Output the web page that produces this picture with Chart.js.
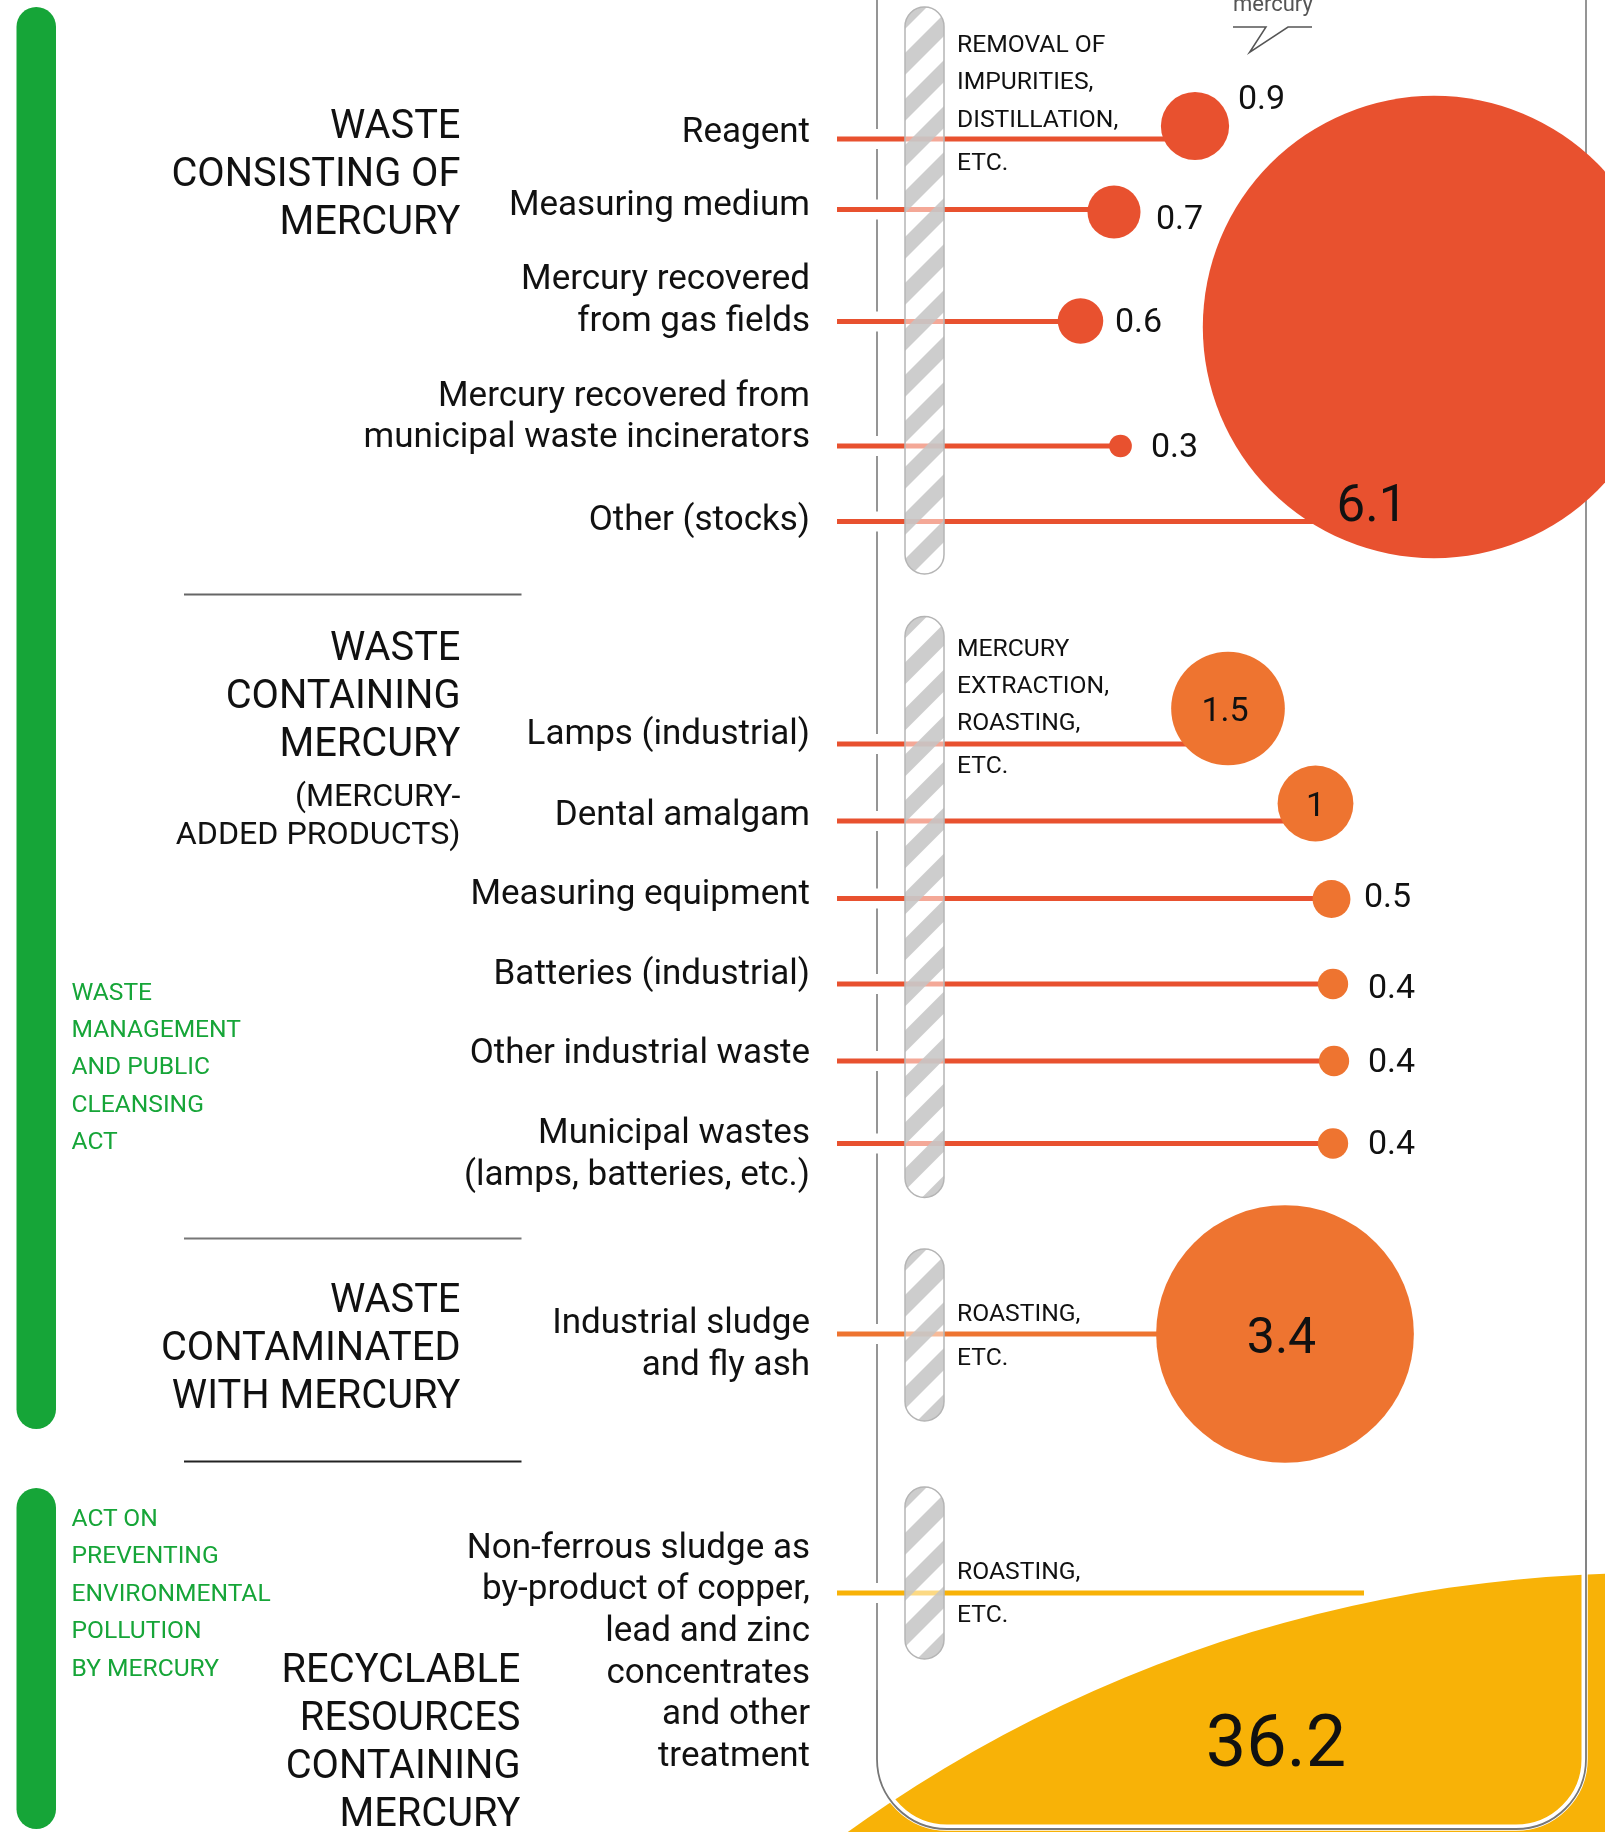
<!DOCTYPE html>
<html>
<head>
<meta charset="utf-8">
<title>Mercury waste flows</title>
<script src="https://cdn.jsdelivr.net/npm/chart.js@4.4.1/dist/chart.umd.min.js"></script>
<style>
  html, body { margin: 0; padding: 0; background: #fff; overflow: hidden; }
  #wrap { position: relative; width: 1605px; height: 1832px; font-family: Roboto, "Noto Sans", sans-serif; color: #111; }
  #chart { position: absolute; left: 0; top: 0; }
  .t { position: absolute; white-space: nowrap; }
</style>
</head>
<body>
<div id="wrap"><canvas id="chart" width="1605" height="1832"></canvas></div>
<script>
// ====== Data ======
const categories = [
  'Reagent',
  'Measuring medium',
  'Mercury recovered\nfrom gas fields',
  'Mercury recovered from\nmunicipal waste incinerators',
  'Other (stocks)',
  'Lamps (industrial)',
  'Dental amalgam',
  'Measuring equipment',
  'Batteries (industrial)',
  'Other industrial waste',
  'Municipal wastes\n(lamps, batteries, etc.)',
  'Industrial sludge\nand fly ash',
  'Non-ferrous sludge as\nby-product of copper,\nlead and zinc\nconcentrates\nand other\ntreatment'
];
const values = [0.9, 0.7, 0.6, 0.3, 6.1, 1.5, 1, 0.5, 0.4, 0.4, 0.4, 3.4, 36.2];
const groupOf = [0, 0, 0, 0, 0, 1, 1, 1, 1, 1, 1, 2, 3];
const groupTitles = [
  ['WASTE', 'CONSISTING OF', 'MERCURY'],
  ['WASTE', 'CONTAINING', 'MERCURY'],
  ['WASTE', 'CONTAMINATED', 'WITH MERCURY'],
  ['RECYCLABLE', 'RESOURCES', 'CONTAINING', 'MERCURY']
];
const groupNote = ['(MERCURY-', 'ADDED PRODUCTS)'];
const processes = [
  ['REMOVAL OF', 'IMPURITIES,', 'DISTILLATION,', 'ETC.'],
  ['MERCURY', 'EXTRACTION,', 'ROASTING,', 'ETC.'],
  ['ROASTING,', 'ETC.'],
  ['ROASTING,', 'ETC.']
];
const laws = [
  ['WASTE', 'MANAGEMENT', 'AND PUBLIC', 'CLEANSING', 'ACT'],
  ['ACT ON', 'PREVENTING', 'ENVIRONMENTAL', 'POLLUTION', 'BY MERCURY']
];
const unitLabel = 'mercury';

// ====== Layout (page units = px) ======
const W = 1605, H = 1832;
const PX_PER_UNIT = 37.9;            // bubble radius per value unit
const stemStartX = 837;
const rowY    = [139, 209.5, 321.5, 446, 521.5, 744, 821, 898.5, 984, 1061, 1143.5, 1334, 1593];
const bubbleX = [1195, 1114, 1080.5, 1120.5, 1434, 1228, 1315.5, 1331.5, 1333, 1334, 1333, 1285, 1650];
const bubbleY = [126, 212, 321, 446, 327, 708.5, 803.5, 899, 984, 1061, 1143.5, 1334, 2945];
const stemEndX = bubbleX.map((x, i) => (groupOf[i] === 3 ? 1364 : x));
const valueLabelLayout = [
  { dx: 43, dy: -29, align: 'left', size: 34 },
  { dx: 42, dy: 5, align: 'left', size: 34 },
  { dx: 34.5, dy: -1, align: 'left', size: 34 },
  { dx: 30.5, dy: -1, align: 'left', size: 34 },
  { dx: -62, dy: 176, align: 'center', size: 51 },
  { dx: -3, dy: 0, align: 'center', size: 34 },
  { dx: 0, dy: 0, align: 'center', size: 34 },
  { dx: 32.5, dy: -4, align: 'left', size: 34 },
  { dx: 35, dy: 1.5, align: 'left', size: 34 },
  { dx: 34, dy: -1, align: 'left', size: 34 },
  { dx: 35, dy: -2, align: 'left', size: 34 },
  { dx: -3.5, dy: 1, align: 'center', size: 50 },
  { dx: -374, dy: -1205, align: 'center', size: 72 }
];
const catY = [131, 204, 278, 394.5, 519, 732.5, 813.5, 893, 972.5, 1051.5, 1132, 1322, 1546.5];
const titleY = [124.5, 647, 1299, 1669];
const titleRight = [460.5, 460.5, 460.5, 520.5];
const processY = [[44, 81.4, 118.5, 162], [648, 685, 722, 765], [1313, 1356.6], [1570.6, 1614]];
const lawY = [991.5, 1518];
const pills = [[7, 574], [616.5, 1197.5], [1249, 1421], [1487, 1659]];
const panel = { left: 877, right: 1586, bottom: 1829, radius: 70 };

const GREEN = '#16a538';
const bubbleColors = ['#e8512f', '#ee7430', '#ee7430', '#f8b207'];
const stemColors = ['#e8512f', '#e8512f', '#ee7430', '#f8b207'];

// ====== Text (HTML) ======
const wrap = document.getElementById('wrap');
function addLine(text, x, y, size, align, color) {
  const d = document.createElement('div');
  const lh = Math.round(size * 1.3);
  d.className = 't';
  d.textContent = text;
  d.style.fontSize = size + 'px';
  d.style.lineHeight = lh + 'px';
  d.style.top = (y - lh / 2) + 'px';
  if (align === 'right') d.style.right = (W - x) + 'px';
  else d.style.left = x + 'px';
  if (color) d.style.color = color;
  wrap.appendChild(d);
}

categories.forEach((c, i) => {
  c.split('\n').forEach((line, k) => addLine(line, 810, catY[i] + k * 41.7, 35, 'right'));
});
groupTitles.forEach((lines, g) => {
  lines.forEach((line, k) => addLine(line, titleRight[g], titleY[g] + k * 48, 39.8, 'right'));
});
groupNote.forEach((line, k) => addLine(line, 460.5, 795 + k * 38, 32.2, 'right'));
processes.forEach((lines, g) => {
  lines.forEach((line, k) => addLine(line, 957, processY[g][k], 24.7, 'left'));
});
laws.forEach((lines, g) => {
  lines.forEach((line, k) => addLine(line, 71.5, lawY[g] + k * 37.4, 24.6, 'left', GREEN));
});
addLine(unitLabel, 1233, 3, 22, 'left', '#555');

// ====== Helpers ======
function roundRectPath(ctx, x, y, w, h, r) {
  ctx.beginPath();
  ctx.moveTo(x + r, y);
  ctx.arcTo(x + w, y, x + w, y + h, r);
  ctx.arcTo(x + w, y + h, x, y + h, r);
  ctx.arcTo(x, y + h, x, y, r);
  ctx.arcTo(x, y, x + w, y, r);
  ctx.closePath();
}

function panelPath(ctx, sx, sy, inset) {
  const k = inset || 0;
  const L = sx.getPixelForValue(panel.left) + k, R = sx.getPixelForValue(panel.right) - k;
  const B = sy.getPixelForValue(panel.bottom) - k, r = panel.radius - k;
  ctx.beginPath();
  ctx.moveTo(L, -5);
  ctx.lineTo(L, B - r);
  ctx.arcTo(L, B, L + r, B, r);
  ctx.lineTo(R - r, B);
  ctx.arcTo(R, B, R, B - r, r);
  ctx.lineTo(R, -5);
}

function drawPill(ctx, cx, top, bottom, w) {
  const r = w / 2, x = cx - r;
  ctx.save();
  roundRectPath(ctx, x, top, w, bottom - top, r);
  ctx.fillStyle = 'rgba(255,255,255,0.5)';
  ctx.fill();
  ctx.clip();
  ctx.fillStyle = 'rgba(196,196,196,0.85)';
  const period = 46, band = 22;
  for (let y = top - w - period; y < bottom + period; y += period) {
    ctx.beginPath();
    ctx.moveTo(x, y + w);
    ctx.lineTo(x + w, y);
    ctx.lineTo(x + w, y + band);
    ctx.lineTo(x, y + w + band);
    ctx.closePath();
    ctx.fill();
  }
  ctx.restore();
  ctx.save();
  roundRectPath(ctx, x, top, w, bottom - top, r);
  ctx.strokeStyle = '#b5b5b5';
  ctx.lineWidth = 1.5;
  ctx.stroke();
  ctx.restore();
}

// ====== Decorations plugin ======
const decor = {
  id: 'decor',
  beforeDraw(chart) {
    const { ctx } = chart;
    ctx.save();
    ctx.fillStyle = '#fff';
    ctx.fillRect(0, 0, chart.width, chart.height);
    // law bars
    ctx.fillStyle = GREEN;
    roundRectPath(ctx, 16.5, 7, 39.5, 1422, 19.75);
    ctx.fill();
    roundRectPath(ctx, 16.5, 1488, 39.5, 341, 19.75);
    ctx.fill();
    // separators
    [[594.5, '#666'], [1238.5, '#777'], [1461.5, '#222']].forEach(([y, c]) => {
      ctx.strokeStyle = c;
      ctx.lineWidth = 2;
      ctx.beginPath();
      ctx.moveTo(184, y);
      ctx.lineTo(521.5, y);
      ctx.stroke();
    });
    ctx.restore();
  },
  beforeDatasetsDraw(chart) {
    const { ctx } = chart;
    const sx = chart.scales.x, sy = chart.scales.y;
    ctx.save();
    panelPath(ctx, sx, sy);
    ctx.strokeStyle = '#8a8a8a';
    ctx.lineWidth = 1.8;
    ctx.stroke();
    // gaps where stems cross the panel edge
    ctx.fillStyle = '#fff';
    const L = sx.getPixelForValue(panel.left);
    rowY.forEach(y => {
      const py = sy.getPixelForValue(y);
      ctx.fillRect(L - 3, py - 10, 6, 20);
    });
    // unit callout
    ctx.strokeStyle = '#555';
    ctx.lineWidth = 1.5;
    ctx.beginPath();
    ctx.moveTo(1233, 27);
    ctx.lineTo(1266, 27);
    ctx.lineTo(1249.5, 52.5);
    ctx.lineTo(1288, 27);
    ctx.lineTo(1312, 27);
    ctx.stroke();
    ctx.restore();
  },
  afterDatasetsDraw(chart) {
    const { ctx } = chart;
    const sx = chart.scales.x, sy = chart.scales.y;
    // hatched process pills
    pills.forEach(([t, b]) => drawPill(ctx, sx.getPixelForValue(924.5), sy.getPixelForValue(t), sy.getPixelForValue(b), 39));
    // panel edge over the big yellow bubble
    ctx.save();
    ctx.beginPath();
    ctx.rect(890, 1500, W - 890, H - 1500);
    ctx.rect(0, 1690, W, H - 1690);
    ctx.clip();
    ctx.strokeStyle = '#fff';
    panelPath(ctx, sx, sy, 2.5);
    ctx.lineWidth = 4;
    ctx.stroke();
    panelPath(ctx, sx, sy);
    ctx.lineWidth = 3.5;
    ctx.stroke();
    ctx.strokeStyle = '#777';
    ctx.lineWidth = 1.8;
    ctx.stroke();
    ctx.restore();
    // value labels
    const meta = chart.getDatasetMeta(0);
    ctx.save();
    ctx.fillStyle = '#111';
    ctx.textBaseline = 'alphabetic';
    meta.data.forEach((pt, i) => {
      const L = valueLabelLayout[i];
      ctx.font = L.size + 'px Roboto, "Noto Sans", sans-serif';
      ctx.textAlign = L.align;
      ctx.fillText(String(values[i]), pt.x + L.dx, pt.y + L.dy + 0.3555 * L.size);
    });
    ctx.restore();
  }
};

// ====== Chart ======
function draw() {
  const ctx = document.getElementById('chart').getContext('2d');
  const stems = values.map((v, i) => ({
    type: 'line',
    data: [{ x: stemStartX, y: rowY[i] }, { x: stemEndX[i], y: rowY[i] }],
    borderColor: stemColors[groupOf[i]],
    borderWidth: 5,
    borderCapStyle: 'butt',
    pointRadius: 0,
    fill: false,
    order: 1
  }));
  new Chart(ctx, {
    type: 'bubble',
    data: {
      datasets: [{
        label: 'Mercury',
        data: values.map((v, i) => ({ x: bubbleX[i], y: bubbleY[i], r: v * PX_PER_UNIT })),
        backgroundColor: groupOf.map(g => bubbleColors[g]),
        borderWidth: 0,
        hoverRadius: 0,
        clip: false,
        order: 0
      }, ...stems]
    },
    options: {
      responsive: false,
      devicePixelRatio: 1,
      animation: false,
      events: [],
      layout: { autoPadding: false, padding: 0 },
      scales: {
        x: { type: 'linear', min: 0, max: W, display: false },
        y: { type: 'linear', min: 0, max: H, reverse: true, display: false }
      },
      plugins: { legend: { display: false }, tooltip: { enabled: false } }
    },
    plugins: [decor]
  });
}

if (document.fonts && document.fonts.load) {
  document.fonts.load('34px Roboto').then(draw, draw);
} else {
  draw();
}
</script>
</body>
</html>
